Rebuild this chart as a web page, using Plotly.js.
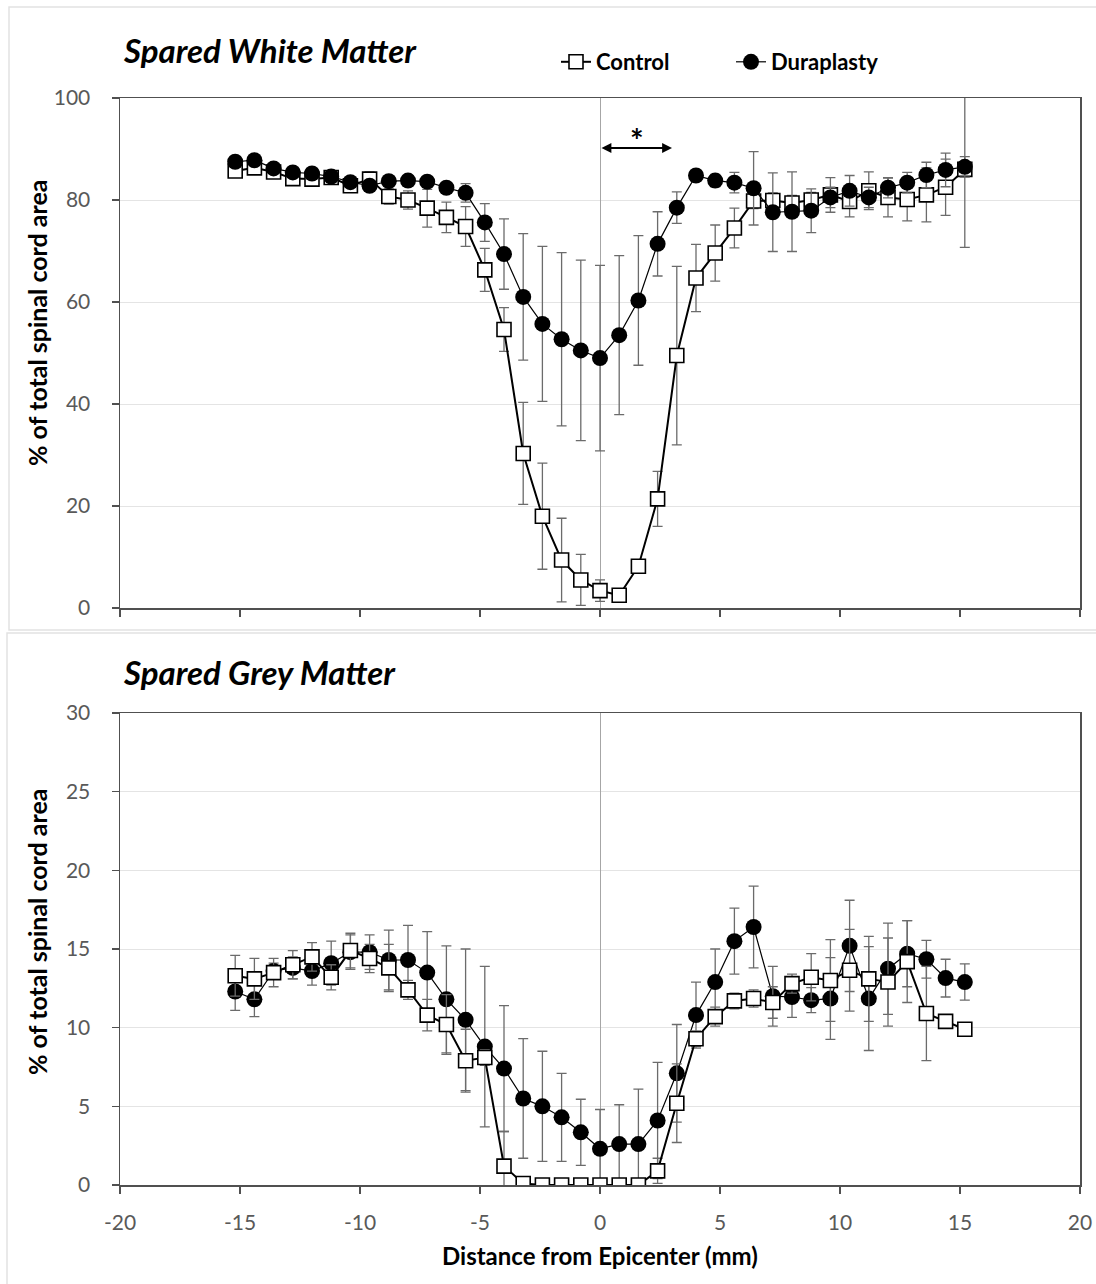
<!DOCTYPE html>
<html>
<head>
<meta charset="utf-8">
<script src="https://cdn.plot.ly/plotly-3.0.1.min.js"></script>
<style>html,body{margin:0;padding:0;background:#fff;}#chart{width:1096px;height:1284px;}</style>
</head>
<body>
<div id="chart"></div>
<script>
// Distance from epicenter (mm)
var distance = [-15.2,-14.4,-13.6,-12.8,-12.0,-11.2,-10.4,-9.6,-8.8,-8.0,-7.2,-6.4,-5.6,-4.8,-4.0,-3.2,-2.4,-1.6,-0.8,0,0.8,1.6,2.4,3.2,4.0,4.8,5.6,6.4,7.2,8.0,8.8,9.6,10.4,11.2,12.0,12.8,13.6,14.4,15.2];

// Spared white matter (% of total spinal cord area)
var wmControl = [85.7,86.3,85.5,84.2,84.1,84.4,82.8,84.1,80.7,80.0,78.4,76.6,74.8,66.3,54.6,30.3,18.0,9.4,5.5,3.4,2.5,8.2,21.4,49.5,64.7,69.6,74.5,79.8,79.9,79.4,80.0,81.0,79.7,81.8,80.5,80.1,81.0,82.5,86.0];
var wmControlErr = [0.8,0.8,0.8,0.8,0.8,0.8,0.8,1.4,1.5,1.8,3.7,3.0,3.9,4.2,4.3,10.0,10.4,8.2,5.0,2.1,1.0,0.8,5.4,17.5,6.6,5.5,3.9,1.5,1.5,1.5,1.5,3.4,3.0,3.7,3.8,4.2,5.3,5.5,15.3];
var wmDura = [87.5,87.8,86.2,85.4,85.2,84.6,83.5,82.8,83.7,83.8,83.6,82.4,81.4,75.6,69.4,61.0,55.7,52.7,50.5,49.0,53.5,60.3,71.4,78.5,84.8,83.8,83.4,82.3,77.6,77.7,77.9,80.5,81.8,80.5,82.4,83.4,84.9,85.9,86.5];
var wmDuraErr = [0.8,0.8,0.8,0.8,0.8,0.8,0.8,0.8,1.0,1.0,1.0,1.0,1.8,3.7,6.9,12.4,15.2,17.0,17.7,18.2,15.6,12.7,6.3,3.1,1.0,1.2,2.0,7.2,7.7,7.8,4.3,2.0,3.0,2.0,2.0,2.0,2.5,3.3,2.0];

// Spared grey matter (% of total spinal cord area)
var gmControl = [13.3,13.1,13.5,14.0,14.5,13.2,14.9,14.4,13.8,12.4,10.8,10.2,7.9,8.1,1.2,0.1,0,0,0,0,0,0,0.9,5.2,9.3,10.7,11.7,11.85,11.6,12.8,13.2,13.0,13.65,13.1,12.9,14.2,10.9,10.4,9.9];
var gmControlErr = [1.3,1.3,0.9,0.9,0.9,0.8,1.1,0.9,1.5,0.6,1.0,1.9,2.0,0.5,2.2,0.2,0,0,0,0,0,0,0.8,2.5,0.5,0.6,0.5,0.55,1.0,0.6,1.5,2.6,2.6,2.7,2.8,2.6,3.0,0.3,0.2];
var gmDura = [12.3,11.8,13.6,13.8,13.6,14.1,14.8,14.8,14.3,14.3,13.5,11.8,10.5,8.8,7.4,5.5,5.0,4.3,3.35,2.3,2.6,2.6,4.1,7.1,10.8,12.9,15.5,16.4,12.0,11.95,11.75,11.85,15.2,11.85,13.75,14.7,14.35,13.15,12.9];
var gmDuraErr = [1.2,1.1,0.5,0.7,0.9,1.4,1.1,1.1,1.9,2.2,2.6,3.4,4.5,5.1,4.0,3.8,3.5,2.8,2.1,2.5,2.5,3.5,3.7,3.1,2.1,2.1,2.1,2.6,1.9,1.3,0.8,2.6,2.9,3.3,2.9,2.1,1.2,1.2,1.15];

// Tick labels
var xTickVals = [-20,-15,-10,-5,0,5,10,15,20];
var xTickText = ['-20','-15','-10','-5','0','5','10','15','20'];

var seriesNames = ["Control", "Duraplasty"];
var panelTitles = ["Spared White Matter", "Spared Grey Matter"];
var yTitle = "% of total spinal cord area";
var xTitle = "Distance from Epicenter (mm)";
var sigMark = "*";
var sigRange = [0, 3.0];
var sigLevel = 90.2;

var FONT = "Lato, 'Open Sans', sans-serif";
var W = 1096, H = 1284, L = 120, R = 16, T = 98, B = 99;
var PW = W - L - R, PH = H - T - B;
function px(x) { return (x - L) / PW; }
function py(y) { return (H - B - y) / PH; }

function errObj(arr) {
  return {type: 'data', array: arr, visible: true, color: '#6b6b6b', thickness: 1.3, width: 5};
}
var ctrlMarker = {symbol: 'square', size: 14, color: '#ffffff', line: {color: '#000000', width: 1.6}};
var duraMarker = {symbol: 'circle', size: 16, color: '#000000', line: {color: '#000000', width: 0}};

var traces = [
  {x: distance, y: wmControl, error_y: errObj(wmControlErr), name: seriesNames[0], mode: 'lines+markers',
   line: {color: '#000000', width: 2}, marker: ctrlMarker, xaxis: 'x', yaxis: 'y'},
  {x: distance, y: wmDura, error_y: errObj(wmDuraErr), name: seriesNames[1], mode: 'lines+markers',
   line: {color: '#000000', width: 1.2}, marker: duraMarker, xaxis: 'x', yaxis: 'y'},
  {x: distance, y: gmDura, error_y: errObj(gmDuraErr), name: seriesNames[1], mode: 'lines+markers', showlegend: false,
   line: {color: '#000000', width: 1.2}, marker: duraMarker, xaxis: 'x2', yaxis: 'y2'},
  {x: distance, y: gmControl, error_y: errObj(gmControlErr), name: seriesNames[0], mode: 'lines+markers', showlegend: false,
   line: {color: '#000000', width: 2}, marker: ctrlMarker, xaxis: 'x2', yaxis: 'y2'}
];

var tickFont = {family: FONT, size: 21, color: '#595959'};
var axisCommon = {
  showline: true, mirror: true, linecolor: '#505050', linewidth: 1.5,
  ticks: 'outside', ticklen: 7, tickcolor: '#505050', tickwidth: 1.2,
  tickfont: tickFont, fixedrange: true
};
function xax(labels, anchor) {
  return Object.assign({}, axisCommon, {
    anchor: anchor, domain: [0, 1], range: [-20, 20], tickmode: 'array', tickvals: xTickVals, ticktext: xTickText,
    showticklabels: labels, ticklabelstandoff: 11, showgrid: false, zeroline: true, zerolinecolor: '#a6a6a6', zerolinewidth: 1
  });
}
function yax(domain, range, dtick, anchor) {
  return Object.assign({}, axisCommon, {
    anchor: anchor, domain: domain, range: range, tickmode: 'linear', tick0: 0, dtick: dtick,
    ticklabelstandoff: 17,
    showgrid: true, gridcolor: '#e4e4e4', gridwidth: 1, zeroline: false
  });
}

var topDom = [py(608), py(98)];
var botDom = [py(1185), py(713)];

var layout = {
  width: W, height: H,
  margin: {l: L, r: R, t: T, b: B},
  paper_bgcolor: '#ffffff', plot_bgcolor: '#ffffff',
  font: {family: FONT},
  showlegend: true,
  legend: {orientation: 'h', x: px(556), y: py(62), xanchor: 'left', yanchor: 'middle',
           font: {family: FONT, size: 22, color: '#000000', weight: 'bold'},
           entrywidth: 130, entrywidthmode: 'pixels', itemwidth: 30, bgcolor: 'rgba(0,0,0,0)', traceorder: 'normal'},
  xaxis: xax(false, 'y'),
  yaxis: yax(topDom, [0, 100], 20, 'x'),
  xaxis2: xax(true, 'y2'),
  yaxis2: yax(botDom, [0, 30], 5, 'x2'),
  shapes: [
    {type: 'rect', xref: 'paper', yref: 'paper', x0: px(9), x1: px(1110), y0: py(630), y1: py(7),
     line: {color: '#e2e2e2', width: 1.5}, fillcolor: 'rgba(0,0,0,0)', layer: 'below'},
    {type: 'rect', xref: 'paper', yref: 'paper', x0: px(7), x1: px(1110), y0: py(1300), y1: py(633),
     line: {color: '#e2e2e2', width: 1.5}, fillcolor: 'rgba(0,0,0,0)', layer: 'below'}
  ],
  annotations: [
    {text: '<b><i>' + panelTitles[0] + '</i></b>', xref: 'paper', yref: 'paper', x: px(121), y: py(50),
     xanchor: 'left', yanchor: 'middle', showarrow: false, font: {family: FONT, size: 33, color: '#000000'}},
    {text: '<b><i>' + panelTitles[1] + '</i></b>', xref: 'paper', yref: 'paper', x: px(121), y: py(672),
     xanchor: 'left', yanchor: 'middle', showarrow: false, font: {family: FONT, size: 33, color: '#000000'}},
    {text: '<b>' + yTitle + '</b>', xref: 'paper', yref: 'paper', x: px(37), y: py(323), textangle: -90,
     xanchor: 'center', yanchor: 'middle', showarrow: false, font: {family: FONT, size: 25, color: '#000000'}},
    {text: '<b>' + yTitle + '</b>', xref: 'paper', yref: 'paper', x: px(37), y: py(932), textangle: -90,
     xanchor: 'center', yanchor: 'middle', showarrow: false, font: {family: FONT, size: 25, color: '#000000'}},
    {text: '<b>' + xTitle + '</b>', xref: 'paper', yref: 'paper', x: px(600), y: py(1255),
     xanchor: 'center', yanchor: 'middle', showarrow: false, font: {family: FONT, size: 24, color: '#000000'}},
    {text: '', xref: 'x', yref: 'y', x: sigRange[1], y: sigLevel, axref: 'x', ayref: 'y', ax: sigRange[0], ay: sigLevel,
     showarrow: true, arrowhead: 2, startarrowhead: 2, arrowside: 'end+start', arrowwidth: 2.2, arrowsize: 0.9, arrowcolor: '#000000'},
    {text: '<b>' + sigMark + '</b>', xref: 'x', yref: 'y', x: (sigRange[0] + sigRange[1]) / 2 + 0.05, y: sigLevel + 1.4,
     xanchor: 'center', yanchor: 'middle', showarrow: false, font: {family: FONT, size: 32, color: '#000000'}}
  ]
};

Plotly.newPlot('chart', traces, layout, {displayModeBar: false, staticPlot: true});
</script>
</body>
</html>
